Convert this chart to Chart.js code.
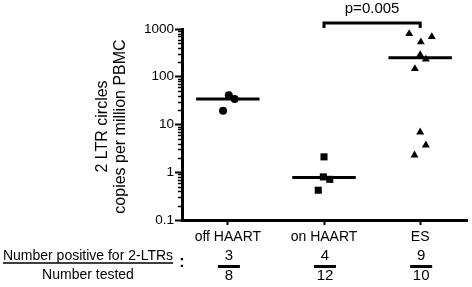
<!DOCTYPE html>
<html>
<head>
<meta charset="utf-8">
<script src="https://cdn.jsdelivr.net/npm/chart.js@4.4.1/dist/chart.umd.min.js"></script>
<style>
html,body{margin:0;padding:0;background:#fff;}
#wrap{width:472px;height:287px;position:relative;}
</style>
</head>
<body>
<div id="wrap"><canvas id="c" width="472" height="287"></canvas></div>
<script>
// ---- data ----
const categories = ['off HAART', 'on HAART', 'ES'];
const offHaart = [41, 34, 19.4];
const offHaartJitter = [0.01, 0.07, -0.05];
const onHaart = [2.1, 0.8, 0.71, 0.42];
const onHaartJitter = [0, -0.007, 0.06, -0.06];
const esValues = [796, 689, 534, 289, 232, 147, 6.9, 3.7, 2.28];
const esJitter = [-0.114, 0.121, 0.007, 0, 0.059, -0.055, 0, 0.059, -0.059];
const medians = [34, 0.78, 250];
const yTicks = [0.1, 1, 10, 100, 1000];
const positives = [3, 4, 9];
const tested = [8, 12, 10];
const pValueText = 'p=0.005';
const yTitle = ['2 LTR circles', 'copies per million PBMC'];
const rowLabelTop = 'Number positive for 2-LTRs';
const rowLabelBottom = 'Number tested';

const FONT = '"Liberation Sans", Arial, sans-serif';
const HALF = 0.33;

function pts(vals, jit, cat) {
  return vals.map((v, i) => ({x: cat + jit[i], y: v}));
}

const datasets = [
  {type:'scatter', data: pts(offHaart, offHaartJitter, 1), pointStyle:'circle', pointRadius:4, backgroundColor:'#000', borderColor:'#000', borderWidth:0},
  {type:'scatter', data: pts(onHaart, onHaartJitter, 2), pointStyle:'rect', pointRadius:5, backgroundColor:'#000', borderColor:'#000', borderWidth:0},
  {type:'scatter', data: pts(esValues, esJitter, 3), pointStyle:'triangle', pointRadius:4.6, backgroundColor:'#000', borderColor:'#000', borderWidth:0},
];
medians.forEach((m, i) => {
  datasets.push({type:'line', data:[{x:i+1-HALF, y:m},{x:i+1+HALF, y:m}], borderColor:'#000', borderWidth:3, pointRadius:0, fill:false});
});

const extras = {
  id: 'extras',
  afterDraw(chart) {
    const ctx = chart.ctx;
    const xs = chart.scales.x, ys = chart.scales.y;
    const ca = chart.chartArea;
    ctx.save();
    ctx.fillStyle = '#000';
    ctx.strokeStyle = '#000';
    // minor ticks on y axis
    ctx.lineWidth = 1.5;
    for (let e = -1; e < 3; e++) {
      for (let k = 2; k <= 9; k++) {
        const v = k * Math.pow(10, e);
        const py = Math.round(ys.getPixelForValue(v)) + 0.5;
        ctx.beginPath();
        ctx.moveTo(ca.left - 4, py);
        ctx.lineTo(ca.left, py);
        ctx.stroke();
      }
    }
    // y title
    ctx.save();
    ctx.font = '16px ' + FONT;
    ctx.textAlign = 'center';
    ctx.textBaseline = 'middle';
    ctx.translate(112, (ca.top + ca.bottom) / 2 + 2);
    ctx.rotate(-Math.PI / 2);
    ctx.fillText(yTitle[0], 0, -9);
    ctx.fillText(yTitle[1], 0, 9);
    ctx.restore();
    // p-value bracket between on HAART and ES
    const x1 = xs.getPixelForValue(2), x2 = xs.getPixelForValue(3);
    const by = ca.top - 6;
    ctx.lineWidth = 3;
    ctx.beginPath();
    ctx.moveTo(x1, by + 5);
    ctx.lineTo(x1, by);
    ctx.lineTo(x2, by);
    ctx.lineTo(x2, by + 5);
    ctx.stroke();
    ctx.font = '15px ' + FONT;
    ctx.textAlign = 'center';
    ctx.textBaseline = 'middle';
    ctx.fillText(pValueText, (x1 + x2) / 2, 9);
    // bottom table
    ctx.font = '14px ' + FONT;
    ctx.fillText(rowLabelTop, 88, 256);
    const w = ctx.measureText(rowLabelTop).width;
    ctx.lineWidth = 1.5;
    ctx.beginPath();
    ctx.moveTo(88 - w / 2, 263);
    ctx.lineTo(88 + w / 2, 263);
    ctx.stroke();
    ctx.fillText(rowLabelBottom, 88, 275);
    ctx.font = 'bold 16px ' + FONT;
    ctx.fillText(':', 182, 263);
    ctx.font = '15px ' + FONT;
    categories.forEach((c, i) => {
      const px = xs.getPixelForValue(i + 1) + 1;
      ctx.fillText(String(positives[i]), px, 256);
      ctx.fillText(String(tested[i]), px, 276);
      ctx.lineWidth = 3;
      ctx.beginPath();
      ctx.moveTo(px - 11, 266.5);
      ctx.lineTo(px + 11, 266.5);
      ctx.stroke();
    });
    ctx.restore();
  }
};

new Chart(document.getElementById('c'), {
  data: {datasets},
  plugins: [extras],
  options: {
    responsive: false,
    animation: false,
    events: [],
    layout: {padding: {left: 132, top: 29, right: 4, bottom: 0}},
    plugins: {legend: {display: false}, tooltip: {enabled: false}},
    scales: {
      x: {
        type: 'linear', min: 0.523, max: 3.487,
        afterBuildTicks: s => { s.ticks = categories.map((c, i) => ({value: i + 1})); },
        afterFit: s => { s.height = 67; },
        ticks: {callback: (v) => categories[Math.round(v) - 1] || '', color: '#000', font: {family: FONT, size: 14}, padding: 4, maxRotation: 0, autoSkip: false},
        grid: {drawOnChartArea: false, tickLength: 5, tickWidth: 2, tickColor: '#000'},
        border: {color: '#000', width: 3}
      },
      y: {
        type: 'logarithmic', min: 0.1, max: 1000,
        afterBuildTicks: s => { s.ticks = yTicks.map(v => ({value: v, major: true})); },
        afterFit: s => { s.width = 50; },
        ticks: {callback: (v) => String(v), color: '#000', font: {family: FONT, size: 13.5}, padding: 1, autoSkip: false},
        grid: {drawOnChartArea: false, tickLength: 7, tickWidth: 2, tickColor: '#000'},
        border: {color: '#000', width: 3}
      }
    }
  }
});
</script>
</body>
</html>
